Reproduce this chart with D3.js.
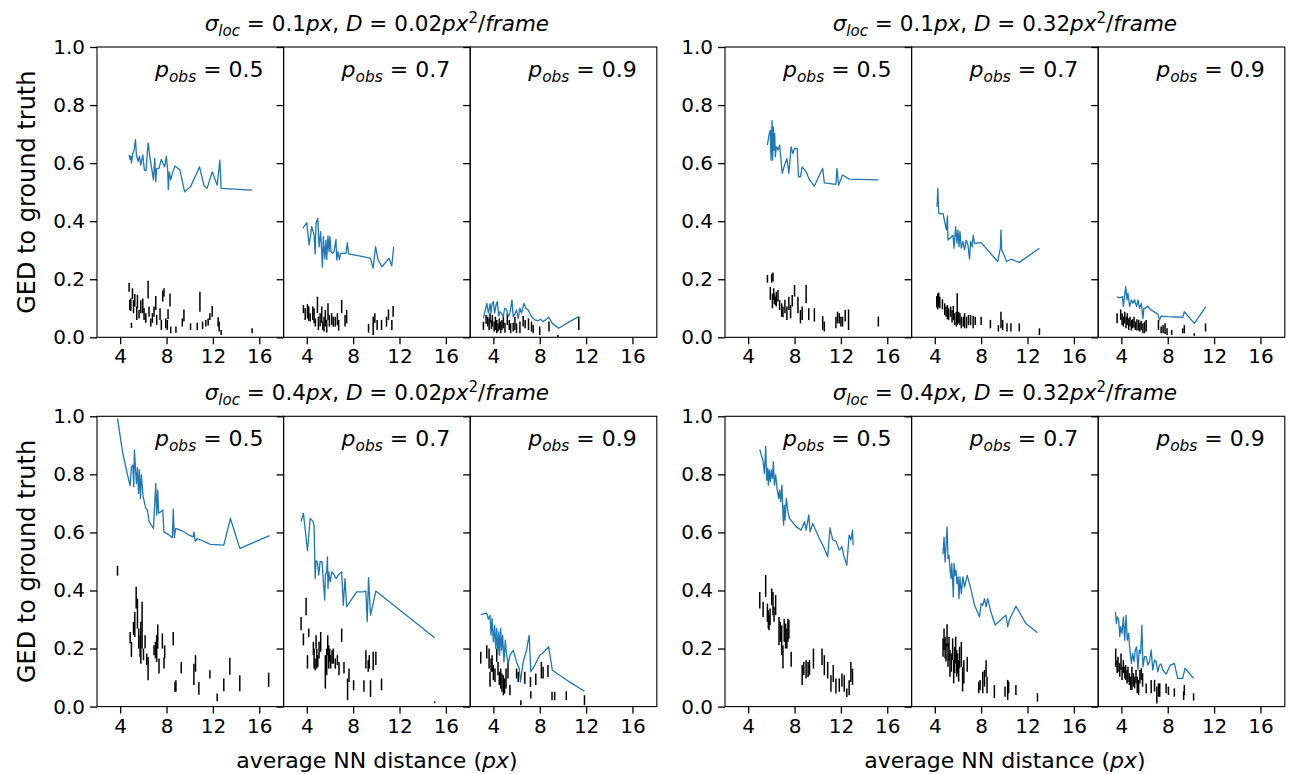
<!DOCTYPE html>
<html>
<head>
<meta charset="utf-8">
<script src="https://cdn.jsdelivr.net/npm/d3@7"></script>
<style>
  body { margin: 0; background: #fff; }
  text { font-family: "DejaVu Sans", sans-serif; fill: #000; }
</style>
</head>
<body>
<svg id="chart" width="1291" height="774"></svg>
<script>
// tick values and panel labels
var xTicks = [4, 8, 12, 16];
var yTicks = [0.0, 0.2, 0.4, 0.6, 0.8, 1.0];
var pObs = ["0.5", "0.7", "0.9"];
var sigmaLoc = ["0.1", "0.4"];     // rows
var diffD = ["0.02", "0.32"];      // columns

/* blue line: GED vs average NN distance, [x, ged]
   black bars: [x, low, high] */

// sigma 0.1, D 0.02
var ged_s01_d002_p05 = [[4.77,0.628],[4.86,0.613],[4.92,0.624],[4.97,0.601],[5.09,0.633],[5.2,0.645],[5.32,0.682],[5.4,0.628],[5.55,0.605],[5.66,0.624],[5.78,0.593],[5.95,0.628],[6.09,0.576],[6.23,0.574],[6.41,0.670],[6.58,0.616],[6.72,0.582],[6.87,0.542],[6.98,0.616],[7.07,0.536],[7.15,0.582],[7.35,0.582],[7.55,0.613],[7.7,0.599],[7.84,0.587],[7.98,0.624],[8.1,0.576],[8.15,0.509],[8.24,0.570],[8.36,0.542],[8.5,0.565],[8.73,0.590],[9.16,0.576],[9.56,0.501],[10.07,0.519],[10.85,0.587],[11.22,0.524],[11.5,0.513],[11.94,0.570],[12.37,0.524],[12.6,0.610],[12.71,0.513],[15.38,0.507]];
var bar_s01_d002_p05 = [[4.77,0.157,0.188],[4.83,0.094,0.129],[4.92,0.091,0.134],[4.97,0.032,0.05],[5.06,0.131,0.169],[5.15,0.083,0.128],[5.26,0.105,0.149],[5.43,0.060,0.106],[5.49,0.100,0.146],[5.63,0.065,0.094],[5.78,0.083,0.128],[5.95,0.083,0.134],[6.06,0.060,0.100],[6.21,0.050,0.083],[6.41,0.134,0.195],[6.49,0.071,0.106],[6.64,0.037,0.065],[6.78,0.050,0.083],[6.92,0.071,0.106],[7.07,0.094,0.142],[7.15,0.043,0.077],[7.44,0.060,0.100],[7.55,0.025,0.060],[7.67,0.123,0.161],[7.78,0.140,0.169],[7.93,0.031,0.065],[8.07,0.025,0.060],[8.13,0.063,0.097],[8.30,0.106,0.151],[8.36,0.014,0.037],[8.81,0.016,0.037],[9.36,0.037,0.065],[9.50,0.054,0.096],[10.07,0.025,0.048],[10.65,0.025,0.050],[10.88,0.088,0.157],[11.11,0.028,0.054],[11.39,0.037,0.060],[11.59,0.041,0.065],[11.74,0.060,0.083],[11.94,0.071,0.108],[12.45,0.037,0.069],[12.54,0.020,0.054],[12.71,0.008,0.025],[15.38,0.014,0.031]];
var ged_s01_d002_p07 = [[3.66,0.375],[4.0,0.395],[4.2,0.318],[4.43,0.381],[4.63,0.352],[4.72,0.287],[4.8,0.392],[4.95,0.410],[5.06,0.312],[5.2,0.364],[5.35,0.241],[5.43,0.347],[5.55,0.272],[5.66,0.335],[5.72,0.268],[5.83,0.349],[5.92,0.295],[6.0,0.347],[6.09,0.295],[6.23,0.289],[6.35,0.295],[6.52,0.337],[6.58,0.266],[6.69,0.295],[6.81,0.268],[6.92,0.289],[7.38,0.289],[7.5,0.326],[7.61,0.287],[8.87,0.278],[9.5,0.272],[9.73,0.238],[9.93,0.312],[10.16,0.266],[10.48,0.243],[11.1,0.272],[11.33,0.246],[11.5,0.312]];
var bar_s01_d002_p07 = [[3.71,0.083,0.111],[3.86,0.060,0.100],[4.06,0.065,0.115],[4.17,0.057,0.106],[4.29,0.054,0.083],[4.52,0.060,0.106],[4.63,0.048,0.1],[4.74,0.037,0.065],[4.92,0.083,0.140],[5.0,0.025,0.071],[5.15,0.037,0.083],[5.29,0.05,0.106],[5.38,0.025,0.054],[5.49,0.02,0.071],[5.6,0.037,0.094],[5.72,0.016,0.06],[5.83,0.06,0.117],[5.95,0.037,0.077],[6.15,0.042,0.083],[6.29,0.037,0.071],[6.46,0.037,0.071],[6.64,0.042,0.083],[6.75,0.023,0.06],[7.01,0.083,0.129],[7.3,0.037,0.077],[7.44,0.048,0.094],[9.33,0.016,0.046],[9.73,0.008,0.071],[9.87,0.05,0.083],[10.07,0.025,0.06],[10.45,0.025,0.06],[10.88,0.037,0.071],[11.05,0.06,0.096],[11.34,0.025,0.06],[11.45,0.071,0.108]];
var ged_s01_d002_p09 = [[3.14,0.065],[3.43,0.117],[3.57,0.083],[3.71,0.115],[3.8,0.083],[3.89,0.117],[4.0,0.123],[4.11,0.083],[4.23,0.111],[4.34,0.123],[4.46,0.073],[4.57,0.088],[4.71,0.083],[4.86,0.071],[4.97,0.1],[5.14,0.096],[5.29,0.071],[5.43,0.083],[5.6,0.129],[5.71,0.071],[5.89,0.083],[6.0,0.094],[6.14,0.065],[6.29,0.1],[6.43,0.083],[6.63,0.117],[6.8,0.1],[7.0,0.094],[7.29,0.071],[7.57,0.06],[7.86,0.057],[8.06,0.062],[8.29,0.054],[8.51,0.06],[8.77,0.069],[9.09,0.048],[9.63,0.031],[10.57,0.054],[11.37,0.071]];
var bar_s01_d002_p09 = [[3.14,0.025,0.054],[3.37,0.046,0.077],[3.51,0.037,0.071],[3.63,0.025,0.065],[3.71,0.048,0.083],[3.83,0.028,0.06],[3.91,0.037,0.077],[4.06,0.02,0.054],[4.17,0.025,0.071],[4.29,0.014,0.06],[4.4,0.02,0.048],[4.51,0.025,0.065],[4.63,0.014,0.054],[4.74,0.025,0.06],[4.86,0.031,0.071],[5.0,0.016,0.05],[5.2,0.042,0.083],[5.37,0.025,0.06],[5.49,0.014,0.048],[5.71,0.02,0.05],[5.86,0.025,0.071],[6.0,0.014,0.048],[6.29,0.014,0.054],[6.57,0.037,0.073],[6.74,0.031,0.06],[7.03,0.025,0.065],[7.29,0.02,0.054],[7.43,0.014,0.042],[8.0,0.008,0.037],[8.8,0.02,0.054],[9.57,0.0,0.008],[11.37,0.025,0.071]];

// sigma 0.1, D 0.32
var ged_s01_d032_p05 = [[5.66,0.662],[5.8,0.697],[5.91,0.714],[5.97,0.610],[6.06,0.746],[6.11,0.610],[6.17,0.725],[6.23,0.645],[6.29,0.702],[6.34,0.622],[6.43,0.656],[6.57,0.645],[6.71,0.662],[6.94,0.565],[7.14,0.593],[7.34,0.616],[7.51,0.565],[7.71,0.656],[7.86,0.633],[8.0,0.651],[8.23,0.651],[8.34,0.553],[8.51,0.553],[8.66,0.587],[9.0,0.570],[9.29,0.542],[9.71,0.521],[10.43,0.582],[10.57,0.532],[11.57,0.527],[11.66,0.582],[11.8,0.524],[12.14,0.559],[12.71,0.545],[15.23,0.542]];
var bar_s01_d032_p05 = [[5.66,0.188,0.215],[5.91,0.129,0.174],[6.03,0.188,0.218],[6.09,0.1,0.151],[6.14,0.192,0.223],[6.2,0.129,0.169],[6.26,0.115,0.151],[6.34,0.111,0.140],[6.43,0.106,0.157],[6.57,0.123,0.163],[6.71,0.094,0.129],[6.89,0.071,0.117],[7.0,0.069,0.106],[7.17,0.083,0.129],[7.34,0.06,0.106],[7.51,0.094,0.140],[7.66,0.065,0.111],[7.8,0.106,0.146],[8.0,0.140,0.180],[8.29,0.083,0.140],[8.51,0.048,0.094],[8.66,0.06,0.106],[9.0,0.117,0.180],[9.23,0.06,0.1],[9.71,0.054,0.1],[10.43,0.025,0.073],[10.57,0.02,0.054],[11.57,0.031,0.071],[11.71,0.048,0.088],[11.86,0.048,0.083],[12.0,0.037,0.071],[12.14,0.037,0.071],[12.37,0.054,0.094],[12.66,0.025,0.096],[15.23,0.037,0.071]];
var ged_s01_d032_p07 = [[4.2,0.450],[4.26,0.513],[4.34,0.427],[4.51,0.425],[4.71,0.427],[4.86,0.398],[5.0,0.370],[5.09,0.418],[5.14,0.335],[5.37,0.344],[5.57,0.352],[5.66,0.307],[5.8,0.381],[5.91,0.324],[6.0,0.370],[6.09,0.312],[6.17,0.364],[6.29,0.307],[6.43,0.330],[6.57,0.301],[6.71,0.335],[6.86,0.318],[7.0,0.269],[7.09,0.330],[7.23,0.312],[7.31,0.352],[7.43,0.324],[8.0,0.326],[9.43,0.261],[9.66,0.307],[9.71,0.370],[9.77,0.303],[10.2,0.261],[10.57,0.269],[11.29,0.258],[13.03,0.307]];
var bar_s01_d032_p07 = [[4.17,0.103,0.142],[4.26,0.096,0.152],[4.34,0.106,0.154],[4.43,0.1,0.140],[4.66,0.096,0.131],[4.86,0.077,0.117],[4.97,0.071,0.106],[5.09,0.062,0.111],[5.2,0.060,0.1],[5.37,0.071,0.106],[5.49,0.051,0.094],[5.6,0.060,0.108],[5.71,0.042,0.083],[5.86,0.037,0.088],[5.94,0.042,0.152],[6.06,0.048,0.088],[6.17,0.042,0.083],[6.29,0.031,0.071],[6.46,0.037,0.071],[6.57,0.031,0.083],[6.74,0.031,0.071],[6.91,0.042,0.077],[7.09,0.042,0.077],[7.31,0.031,0.073],[7.49,0.042,0.071],[8.0,0.042,0.071],[8.8,0.031,0.060],[9.49,0.020,0.042],[9.71,0.031,0.088],[9.86,0.025,0.060],[10.23,0.020,0.048],[10.57,0.020,0.048],[11.29,0.020,0.048],[13.03,0.008,0.031]];
var ged_s01_d032_p09 = [[3.63,0.138],[3.94,0.137],[4.09,0.140],[4.17,0.106],[4.29,0.146],[4.37,0.175],[4.49,0.129],[4.57,0.152],[4.71,0.106],[4.86,0.129],[5.0,0.117],[5.14,0.129],[5.31,0.106],[5.43,0.129],[5.57,0.1],[5.71,0.117],[5.86,0.065],[5.94,0.1],[6.09,0.1],[6.23,0.108],[6.57,0.094],[7.14,0.080],[7.29,0.060],[7.43,0.073],[8.0,0.071],[9.29,0.069],[9.43,0.088],[10.29,0.048],[11.29,0.106]];
var bar_s01_d032_p09 = [[3.63,0.048,0.083],[3.94,0.060,0.096],[4.06,0.042,0.083],[4.17,0.037,0.071],[4.29,0.048,0.088],[4.4,0.031,0.071],[4.51,0.042,0.083],[4.63,0.025,0.065],[4.74,0.037,0.071],[4.86,0.023,0.060],[4.97,0.031,0.062],[5.09,0.034,0.071],[5.2,0.025,0.054],[5.34,0.023,0.062],[5.49,0.023,0.060],[5.6,0.020,0.051],[5.71,0.025,0.057],[5.86,0.014,0.048],[6.0,0.014,0.054],[6.14,0.020,0.060],[7.2,0.025,0.060],[7.43,0.014,0.037],[7.6,0.014,0.042],[7.77,0.011,0.048],[7.94,0.008,0.031],[8.34,0.008,0.025],[9.29,0.014,0.031],[9.43,0.014,0.042],[10.29,0.005,0.014],[11.26,0.020,0.048]];

// sigma 0.4, D 0.02
var ged_s04_d002_p05 = [[3.77,0.993],[4.2,0.878],[4.57,0.809],[4.86,0.761],[4.97,0.826],[5.09,0.832],[5.17,0.757],[5.23,0.884],[5.32,0.821],[5.4,0.769],[5.49,0.823],[5.58,0.734],[5.66,0.815],[5.75,0.717],[5.83,0.798],[5.98,0.723],[6.21,0.683],[6.35,0.677],[6.49,0.637],[6.87,0.614],[7.07,0.769],[7.15,0.660],[7.24,0.746],[7.32,0.666],[7.5,0.671],[7.67,0.677],[7.78,0.602],[8.21,0.591],[8.5,0.582],[8.58,0.680],[8.67,0.582],[8.79,0.614],[9.36,0.605],[9.93,0.591],[10.3,0.585],[10.36,0.602],[10.48,0.570],[10.65,0.579],[11.79,0.559],[12.94,0.556],[13.51,0.648],[14.32,0.545],[16.89,0.589]];
var bar_s04_d002_p05 = [[3.77,0.451,0.485],[4.86,0.217,0.257],[4.97,0.171,0.223],[5.15,0.246,0.292],[5.26,0.240,0.326],[5.38,0.338,0.413],[5.49,0.269,0.372],[5.6,0.2,0.269],[5.72,0.171,0.246],[5.78,0.148,0.292],[5.89,0.2,0.361],[6.01,0.160,0.2],[6.15,0.2,0.246],[6.29,0.143,0.183],[6.41,0.091,0.171],[6.92,0.177,0.211],[7.04,0.166,0.223],[7.15,0.154,0.246],[7.24,0.2,0.283],[7.35,0.114,0.166],[7.64,0.2,0.252],[7.78,0.131,0.168],[7.84,0.166,0.211],[8.58,0.211,0.257],[8.73,0.051,0.085],[8.81,0.051,0.091],[9.27,0.114,0.154],[10.36,0.074,0.148],[10.5,0.120,0.177],[10.79,0.041,0.085],[11.74,0.097,0.125],[12.37,0.018,0.045],[12.94,0.053,0.097],[13.46,0.110,0.168],[14.32,0.053,0.108],[16.81,0.068,0.117]];
var ged_s04_d002_p07 = [[3.51,0.637],[3.71,0.666],[4.06,0.537],[4.29,0.648],[4.52,0.639],[4.63,0.625],[4.72,0.441],[4.8,0.502],[4.92,0.499],[5.03,0.453],[5.15,0.499],[5.32,0.499],[5.43,0.430],[5.55,0.367],[5.6,0.453],[5.72,0.464],[5.78,0.516],[5.83,0.407],[5.89,0.464],[6.01,0.430],[6.15,0.464],[6.35,0.455],[6.52,0.441],[6.72,0.453],[7.01,0.464],[7.15,0.349],[7.3,0.441],[7.44,0.344],[7.72,0.361],[8.3,0.395],[8.87,0.395],[9.1,0.398],[9.21,0.292],[9.33,0.444],[9.5,0.315],[9.96,0.398],[15.03,0.237]];
var bar_s04_d002_p07 = [[3.51,0.263,0.309],[3.71,0.211,0.252],[3.94,0.315,0.375],[4.06,0.131,0.177],[4.17,0.240,0.269],[4.57,0.177,0.223],[4.63,0.131,0.2],[4.72,0.125,0.166],[4.8,0.2,0.246],[4.86,0.131,0.2],[4.95,0.137,0.177],[5.06,0.166,0.223],[5.2,0.189,0.257],[5.6,0.062,0.177],[5.72,0.108,0.2],[5.81,0.177,0.246],[5.89,0.131,0.211],[5.98,0.154,0.2],[6.06,0.131,0.177],[6.18,0.148,0.194],[6.29,0.148,0.2],[6.46,0.131,0.166],[6.64,0.143,0.177],[6.78,0.108,0.154],[7.01,0.223,0.269],[7.21,0.114,0.154],[7.52,0.022,0.097],[7.64,0.085,0.131],[8.04,0.056,0.091],[8.93,0.051,0.091],[9.1,0.131,0.194],[9.3,0.120,0.160],[9.39,0.131,0.177],[9.5,0.033,0.091],[9.73,0.125,0.189],[9.96,0.143,0.189],[10.45,0.056,0.097],[15.03,0.012,0.018]];
var ged_s04_d002_p09 = [[2.91,0.317],[3.43,0.322],[3.57,0.301],[3.71,0.315],[3.8,0.246],[3.89,0.303],[4.0,0.223],[4.11,0.280],[4.2,0.2],[4.29,0.269],[4.37,0.177],[4.46,0.257],[4.54,0.177],[4.63,0.269],[4.71,0.194],[4.8,0.246],[4.91,0.154],[5.03,0.229],[5.14,0.177],[5.29,0.148],[5.43,0.177],[5.71,0.194],[6.0,0.154],[6.23,0.131],[6.34,0.085],[6.57,0.154],[6.86,0.194],[7.09,0.246],[7.23,0.120],[7.57,0.143],[8.0,0.177],[8.23,0.183],[8.77,0.206],[9.09,0.125],[10.57,0.085],[11.86,0.053]];
var bar_s04_d002_p09 = [[2.91,0.148,0.189],[3.43,0.166,0.211],[3.63,0.131,0.2],[3.71,0.068,0.120],[3.8,0.120,0.166],[3.89,0.120,0.177],[4.0,0.091,0.143],[4.14,0.085,0.131],[4.29,0.154,0.2],[4.4,0.108,0.154],[4.51,0.074,0.120],[4.63,0.062,0.131],[4.74,0.051,0.114],[4.86,0.039,0.108],[4.97,0.045,0.097],[5.09,0.062,0.131],[5.26,0.097,0.154],[5.43,0.039,0.074],[6.0,0.097,0.131],[6.14,0.085,0.120],[6.37,0.005,0.022],[6.71,0.079,0.120],[7.2,0.068,0.102],[7.23,0.028,0.053],[7.66,0.074,0.114],[8.14,0.097,0.154],[8.29,0.097,0.137],[8.71,0.102,0.143],[9.06,0.022,0.051],[9.29,0.022,0.051],[10.29,0.022,0.053],[11.86,0.005,0.039]];

// sigma 0.4, D 0.32
var ged_s04_d032_p05 = [[5.0,0.886],[5.29,0.844],[5.4,0.803],[5.51,0.897],[5.6,0.780],[5.69,0.821],[5.74,0.763],[5.83,0.815],[5.91,0.775],[6.0,0.815],[6.09,0.786],[6.17,0.844],[6.26,0.763],[6.37,0.798],[6.49,0.752],[6.63,0.717],[6.71,0.746],[6.8,0.706],[6.91,0.763],[7.0,0.660],[7.06,0.625],[7.11,0.694],[7.17,0.643],[7.29,0.717],[7.43,0.671],[7.57,0.648],[8.14,0.620],[8.57,0.608],[8.86,0.637],[9.0,0.608],[9.23,0.660],[9.34,0.602],[9.57,0.631],[10.14,0.579],[10.57,0.545],[10.86,0.516],[11.06,0.616],[11.29,0.574],[11.57,0.570],[11.86,0.539],[12.09,0.551],[12.23,0.522],[12.51,0.487],[12.71,0.591],[12.86,0.574],[13.0,0.608],[13.06,0.556]];
var bar_s04_d032_p05 = [[5.0,0.338,0.395],[5.29,0.309,0.361],[5.51,0.378,0.453],[5.66,0.292,0.355],[5.74,0.269,0.332],[5.8,0.263,0.315],[5.89,0.280,0.338],[6.03,0.349,0.407],[6.14,0.315,0.395],[6.23,0.292,0.344],[6.37,0.315,0.384],[6.66,0.211,0.309],[6.77,0.223,0.292],[6.89,0.177,0.280],[7.0,0.131,0.211],[7.11,0.223,0.303],[7.23,0.200,0.286],[7.34,0.200,0.269],[7.43,0.223,0.303],[7.51,0.234,0.298],[7.71,0.137,0.189],[8.66,0.074,0.143],[8.8,0.108,0.154],[9.0,0.097,0.160],[9.17,0.102,0.154],[9.29,0.108,0.160],[9.63,0.131,0.2],[10.37,0.143,0.2],[10.57,0.108,0.177],[10.86,0.097,0.154],[11.14,0.051,0.108],[11.34,0.085,0.143],[11.57,0.045,0.097],[11.86,0.051,0.097],[12.09,0.068,0.114],[12.29,0.051,0.108],[12.51,0.033,0.062],[12.71,0.039,0.091],[12.86,0.085,0.154],[13.0,0.074,0.131]];
var ged_s04_d032_p07 = [[4.71,0.525],[4.8,0.584],[4.89,0.498],[4.97,0.556],[5.06,0.619],[5.14,0.510],[5.23,0.521],[5.31,0.475],[5.4,0.441],[5.46,0.493],[5.54,0.435],[5.6,0.378],[5.66,0.493],[5.74,0.452],[5.83,0.470],[5.91,0.424],[6.0,0.447],[6.09,0.372],[6.17,0.447],[6.29,0.389],[6.43,0.447],[6.57,0.412],[6.8,0.452],[7.14,0.401],[7.43,0.349],[7.86,0.309],[8.0,0.355],[8.14,0.349],[8.29,0.372],[8.43,0.344],[8.57,0.372],[8.8,0.332],[9.2,0.281],[10.14,0.315],[10.29,0.275],[10.43,0.298],[11.0,0.346],[11.86,0.286],[12.86,0.254]];
var bar_s04_d032_p07 = [[4.71,0.172,0.235],[4.8,0.195,0.269],[4.89,0.166,0.241],[4.97,0.155,0.218],[5.06,0.206,0.284],[5.14,0.137,0.218],[5.23,0.160,0.241],[5.31,0.103,0.195],[5.43,0.120,0.183],[5.54,0.160,0.235],[5.63,0.080,0.160],[5.71,0.115,0.206],[5.8,0.149,0.241],[5.89,0.103,0.195],[5.97,0.115,0.183],[6.06,0.086,0.160],[6.14,0.132,0.206],[6.29,0.137,0.223],[6.4,0.052,0.137],[6.51,0.080,0.160],[6.8,0.120,0.172],[7.8,0.046,0.086],[7.91,0.057,0.092],[8.14,0.046,0.120],[8.29,0.069,0.126],[8.43,0.103,0.160],[8.51,0.046,0.103],[9.14,0.029,0.074],[10.06,0.034,0.069],[10.29,0.023,0.092],[10.37,0.046,0.086],[11.0,0.040,0.074],[12.86,0.017,0.046]];
var ged_s04_d032_p09 = [[3.49,0.326],[3.57,0.286],[3.66,0.309],[3.77,0.298],[3.86,0.241],[3.94,0.275],[4.06,0.252],[4.17,0.309],[4.29,0.229],[4.4,0.315],[4.51,0.229],[4.63,0.252],[4.71,0.206],[4.86,0.149],[4.97,0.183],[5.09,0.155],[5.2,0.195],[5.31,0.206],[5.43,0.126],[5.54,0.195],[5.66,0.183],[5.77,0.281],[5.86,0.137],[6.0,0.172],[6.14,0.172],[6.29,0.143],[6.43,0.155],[6.57,0.195],[6.71,0.126],[6.86,0.160],[7.0,0.155],[7.14,0.120],[7.29,0.143],[7.43,0.147],[7.57,0.126],[7.86,0.112],[8.23,0.143],[8.57,0.149],[8.86,0.097],[9.29,0.097],[9.49,0.132],[10.23,0.097]];
var bar_s04_d032_p09 = [[3.51,0.137,0.2],[3.63,0.115,0.160],[3.71,0.120,0.172],[3.86,0.103,0.149],[3.97,0.126,0.183],[4.06,0.092,0.137],[4.17,0.115,0.160],[4.29,0.097,0.137],[4.37,0.092,0.143],[4.49,0.080,0.126],[4.57,0.086,0.137],[4.69,0.074,0.115],[4.8,0.057,0.103],[4.91,0.057,0.137],[5.03,0.069,0.115],[5.14,0.063,0.103],[5.26,0.080,0.126],[5.37,0.046,0.103],[5.49,0.040,0.092],[5.6,0.080,0.126],[5.71,0.092,0.132],[5.83,0.069,0.115],[6.14,0.046,0.080],[6.57,0.046,0.092],[6.86,0.052,0.092],[7.06,0.011,0.069],[7.2,0.034,0.080],[7.31,0.034,0.080],[7.86,0.046,0.080],[8.06,0.040,0.069],[8.57,0.034,0.063],[9.37,0.023,0.052],[9.43,0.040,0.074],[10.23,0.021,0.046]];

var panels = [
  [ged_s01_d002_p05, bar_s01_d002_p05, 0, 0, 0], [ged_s01_d002_p07, bar_s01_d002_p07, 0, 0, 1], [ged_s01_d002_p09, bar_s01_d002_p09, 0, 0, 2],
  [ged_s01_d032_p05, bar_s01_d032_p05, 0, 1, 0], [ged_s01_d032_p07, bar_s01_d032_p07, 0, 1, 1], [ged_s01_d032_p09, bar_s01_d032_p09, 0, 1, 2],
  [ged_s04_d002_p05, bar_s04_d002_p05, 1, 0, 0], [ged_s04_d002_p07, bar_s04_d002_p07, 1, 0, 1], [ged_s04_d002_p09, bar_s04_d002_p09, 1, 0, 2],
  [ged_s04_d032_p05, bar_s04_d032_p05, 1, 1, 0], [ged_s04_d032_p07, bar_s04_d032_p07, 1, 1, 1], [ged_s04_d032_p09, bar_s04_d032_p09, 1, 1, 2]
];

var svg = d3.select("#chart");
var groupLeft = [97, 725], panelW = 186.6;
var rowTop = [47, 416.3], rowH = 290.3;
var tickFs = 20, labelFs = 22, titleFs = 21.5, yLabFs = 24, xLabFs = 22;

// write a small mathtext-like string into a text element
function mathText(sel, parts, fs) {
  var shift = 0;
  parts.forEach(function(p) {
    var t = sel.append("tspan").text(p.t);
    var want = p.sub ? fs * 0.24 : (p.sup ? -fs * 0.38 : 0);
    if (want - shift !== 0) t.attr("dy", want - shift);
    shift = want;
    if (p.i) t.attr("font-style", "italic");
    if (p.sub || p.sup) t.attr("font-size", fs * 0.7);
  });
}

panels.forEach(function(pn) {
  var data = pn[0], bars = pn[1], row = pn[2], col = pn[3], k = pn[4];
  var x0 = groupLeft[col] + k * panelW;
  var x = d3.scaleLinear().domain([2.0, 18.1]).range([x0, x0 + panelW]);
  var y = d3.scaleLinear().domain([0, 1]).range([rowTop[row] + rowH, rowTop[row]]);
  var g = svg.append("g");

  var yAxis = d3.axisLeft(y).tickValues(yTicks).tickSize(7).tickPadding(5).tickSizeOuter(0)
    .tickFormat(k == 0 ? d3.format(".1f") : "");
  var ya = g.append("g").attr("transform", "translate(" + x0 + ",0)").call(yAxis);
  var xAxis = d3.axisBottom(x).tickValues(xTicks).tickSize(7).tickPadding(5).tickSizeOuter(0);
  var xa = g.append("g").attr("transform", "translate(0," + (rowTop[row] + rowH) + ")").call(xAxis);
  [ya, xa].forEach(function(a) {
    a.select(".domain").remove();
    a.selectAll("line").attr("stroke", "#000").attr("stroke-width", 1.3);
    a.selectAll("text").attr("font-size", tickFs).attr("font-family", "DejaVu Sans").attr("fill", "#000");
  });

  g.append("g").selectAll("line").data(bars).enter().append("line")
    .attr("x1", function(d) { return x(d[0]); })
    .attr("x2", function(d) { return x(d[0]); })
    .attr("y1", function(d) { return y(d[1]); })
    .attr("y2", function(d) { return y(d[2]); })
    .attr("stroke", "#000").attr("stroke-width", 1.5);

  var line = d3.line().x(function(d) { return x(d[0]); }).y(function(d) { return y(d[1]); });
  g.append("path").datum(data).attr("d", line)
    .attr("fill", "none").attr("stroke", "#1f77b4").attr("stroke-width", 1.3)
    .attr("stroke-linejoin", "round");

  g.append("rect").attr("x", x0).attr("y", rowTop[row]).attr("width", panelW).attr("height", rowH)
    .attr("fill", "none").attr("stroke", "#000").attr("stroke-width", 1.1);

  var lab = g.append("text").attr("x", x0 + panelW - 20).attr("y", rowTop[row] + 29.5)
    .attr("text-anchor", "end").attr("font-size", labelFs);
  mathText(lab, [{t: "p", i: true}, {t: "obs", i: true, sub: true}, {t: " = " + pObs[k]}], labelFs);
});

// group titles and axis labels
[0, 1].forEach(function(row) {
  [0, 1].forEach(function(col) {
    var cx = groupLeft[col] + 1.5 * panelW;
    var t = svg.append("text").attr("x", cx).attr("y", rowTop[row] - 16)
      .attr("text-anchor", "middle").attr("font-size", titleFs);
    mathText(t, [{t: "σ", i: true}, {t: "loc", i: true, sub: true}, {t: " = " + sigmaLoc[row]},
      {t: "px", i: true}, {t: ", "}, {t: "D", i: true}, {t: " = " + diffD[col]}, {t: "px", i: true},
      {t: "2", sup: true}, {t: "/"}, {t: "frame", i: true}], titleFs);
  });
  var cy = rowTop[row] + rowH / 2;
  svg.append("text").attr("transform", "translate(35," + cy + ") rotate(-90)")
    .attr("text-anchor", "middle").attr("font-size", yLabFs).text("GED to ground truth");
});

[0, 1].forEach(function(col) {
  var t = svg.append("text").attr("x", groupLeft[col] + 1.5 * panelW).attr("y", 768)
    .attr("text-anchor", "middle").attr("font-size", xLabFs);
  mathText(t, [{t: "average NN distance ("}, {t: "px", i: true}, {t: ")"}], xLabFs);
});
</script>
</body>
</html>
